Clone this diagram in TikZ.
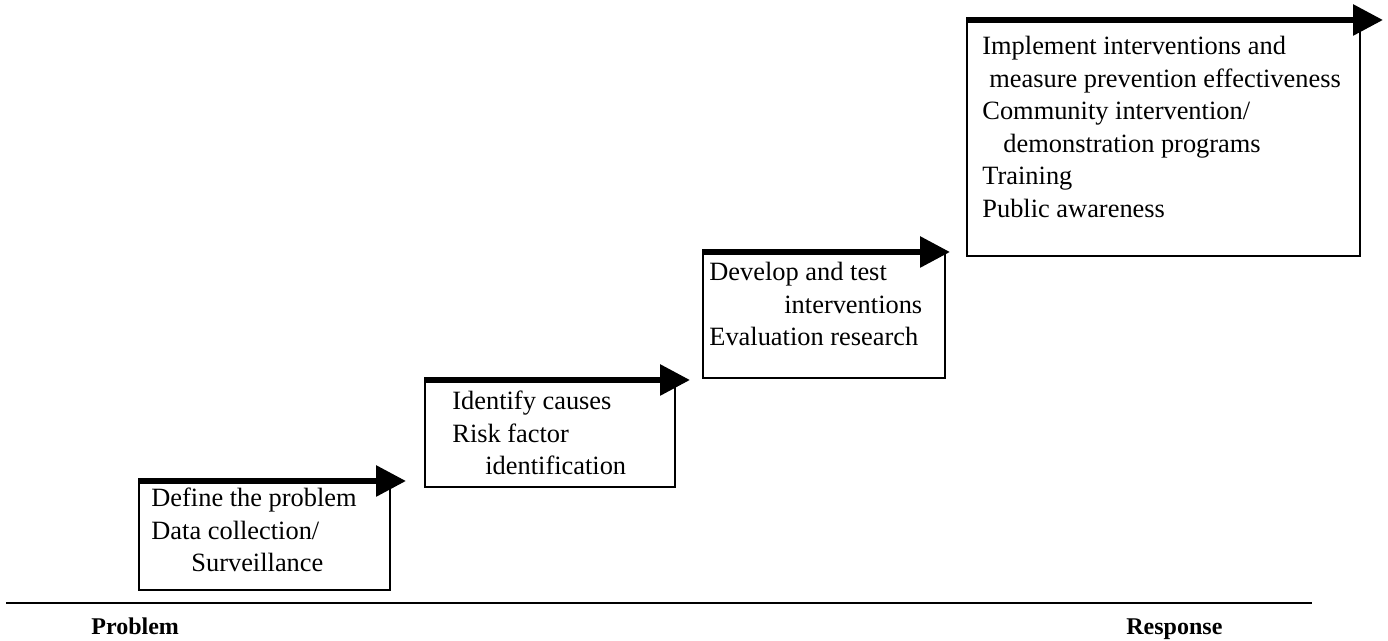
\documentclass[tikz,border=0pt]{standalone}
\usepackage{fontspec}
\setmainfont{Liberation Serif}
\usetikzlibrary{arrows.meta}
\tikzset{%
  stepTip/.tip={Triangle[length=15pt,width=15pt]},
  stepbox/.style={draw, line width=0.8pt, inner sep=0pt, anchor=north west},
  steptext/.style={align=left, inner sep=0pt, anchor=base west, font=\fontsize{13.2}{16.25}\selectfont},
  steparrow/.style={line width=3pt, -stepTip},
  endlabel/.style={inner sep=0pt, anchor=base west, font=\fontsize{12}{14}\selectfont\bfseries}
}

\begin{document}
\begin{tikzpicture}[x=0.5pt,y=-0.5pt]
\useasboundingbox (0,0) rectangle (1388,641);
% the four steps
\node[stepbox, minimum width=125.5pt, minimum height=54pt] (b1) at (138,481) {};
\node[stepbox, minimum width=125pt, minimum height=53pt] (b2) at (424,380) {};
\node[stepbox, minimum width=121pt, minimum height=62.5pt] (b3) at (702,252) {};
\node[stepbox, minimum width=196.5pt, minimum height=117.5pt] (b4) at (966,20) {};
\coordinate (t1) at (406,481);
\coordinate (t2) at (690,380);
\coordinate (t3) at (950,252);
\coordinate (t4) at (1383,20);
\draw[steparrow] (b1.north west) -- (t1);
\draw[steparrow] (b2.north west) -- (t2);
\draw[steparrow] (b3.north west) -- (t3);
\draw[steparrow] (b4.north west) -- (t4);
% base anchor sits on the last line
\node[steptext] (s1) at (151,572) {Define the problem\\Data collection/\\\hspace*{20pt}Surveillance};
\node[steptext] (s2) at (452,475) {Identify causes\\Risk factor\\\hspace*{16.5pt}identification};
\node[steptext] (s3) at (709,346) {Develop and test\\\hspace*{37.5pt}interventions\\Evaluation research};
\node[steptext] (s4) at (982,217.5) {Implement interventions and\\\hspace*{3.5pt}measure prevention effectiveness\\Community intervention/\\\hspace*{10.5pt}demonstration programs\\Training\\Public awareness};
% axis
\coordinate (axL) at (6,603);
\coordinate (axR) at (1312,603);
\draw[line width=1pt] (axL) -- (axR);
\node[endlabel] (lp) at (91,635) {Problem};
\node[endlabel] (lr) at (1126,635) {Response};
\end{tikzpicture}
\end{document}
